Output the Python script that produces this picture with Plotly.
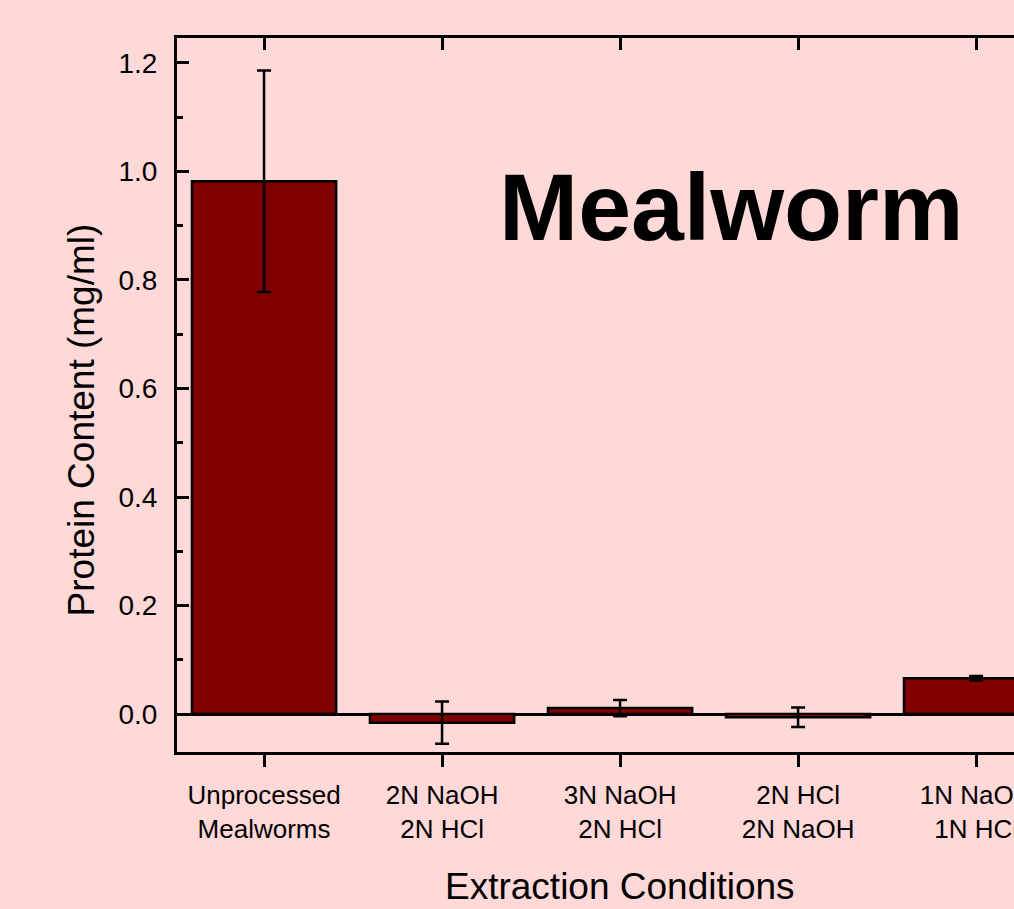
import plotly.graph_objects as go

# data
conditions = [
    "Unprocessed<br>Mealworms",
    "2N NaOH<br>2N HCl",
    "3N NaOH<br>2N HCl",
    "2N HCl<br>2N NaOH",
    "1N NaOH<br>1N HCl",
]
protein = [0.982, -0.016, 0.011, -0.006, 0.066]
protein_err = [0.204, 0.039, 0.015, 0.018, 0.004]

BG = "#FFD8D8"
FONT = "Arial, Liberation Sans, sans-serif"

fig = go.Figure()

fig.add_trace(
    go.Bar(
        x=conditions,
        y=protein,
        width=0.81,
        marker=dict(color="#800000", line=dict(color="black", width=2.5)),
        error_y=dict(type="data", array=protein_err, color="black",
                     thickness=2.5, width=7),
        showlegend=False,
    )
)

# invisible trace so the mirrored top axis (ticks pointing inward) is drawn
fig.add_trace(
    go.Scatter(
        x=conditions,
        y=protein,
        xaxis="x2",
        mode="markers",
        marker=dict(opacity=0),
        hoverinfo="skip",
        showlegend=False,
    )
)

x_range = [-0.489, 4.213]

fig.update_layout(
    width=1014,
    height=909,
    paper_bgcolor=BG,
    plot_bgcolor=BG,
    margin=dict(l=177, r=0, t=38, b=157, autoexpand=False),
    font=dict(family=FONT, color="black", size=26),
    xaxis=dict(
        type="category",
        range=x_range,
        automargin=False,
        showline=True,
        linecolor="black",
        linewidth=3,
        ticks="outside",
        ticklen=12,
        tickwidth=3,
        tickcolor="black",
        ticklabelstandoff=6,
        showgrid=False,
        ticklabeloverflow="allow",
        tickfont=dict(size=26),
    ),
    xaxis2=dict(
        type="category",
        overlaying="x",
        side="top",
        range=x_range,
        automargin=False,
        showline=True,
        linecolor="black",
        linewidth=3,
        ticks="inside",
        ticklen=12,
        tickwidth=3,
        tickcolor="black",
        showticklabels=False,
        showgrid=False,
    ),
    yaxis=dict(
        range=[-0.070, 1.246],
        dtick=0.2,
        tick0=0,
        tickformat=".1f",
        automargin=False,
        showline=True,
        linecolor="black",
        linewidth=3,
        ticks="inside",
        ticklen=12,
        tickwidth=3,
        tickcolor="black",
        ticklabelstandoff=11,
        minor=dict(ticks="inside", dtick=0.1, ticklen=6, tickwidth=3, tickcolor="black"),
        showgrid=False,
        zeroline=True,
        zerolinecolor="black",
        zerolinewidth=3,
        tickfont=dict(size=28),
    ),
    annotations=[
        dict(
            text="<b>Mealworm</b>",
            xref="paper",
            yref="paper",
            x=0.663,
            y=0.763,
            xanchor="center",
            yanchor="middle",
            showarrow=False,
            font=dict(size=95, family=FONT, color="black"),
        ),
        # axis titles as annotations, offset from the plot centre as in the reference
        dict(
            text="Protein Content (mg/ml)",
            xref="paper",
            yref="paper",
            x=-0.113,
            y=0.465,
            xanchor="center",
            yanchor="middle",
            textangle=-90,
            showarrow=False,
            font=dict(size=37, family=FONT, color="black"),
        ),
        dict(
            text="Extraction Conditions",
            xref="paper",
            yref="paper",
            x=0.529,
            y=-0.188,
            xanchor="center",
            yanchor="middle",
            showarrow=False,
            font=dict(size=37, family=FONT, color="black"),
        ),
    ],
)

fig.write_html(
    "out.html",
    config={"displayModeBar": False},
    post_script="document.body.style.margin='0';document.body.style.overflow='hidden';",
)
